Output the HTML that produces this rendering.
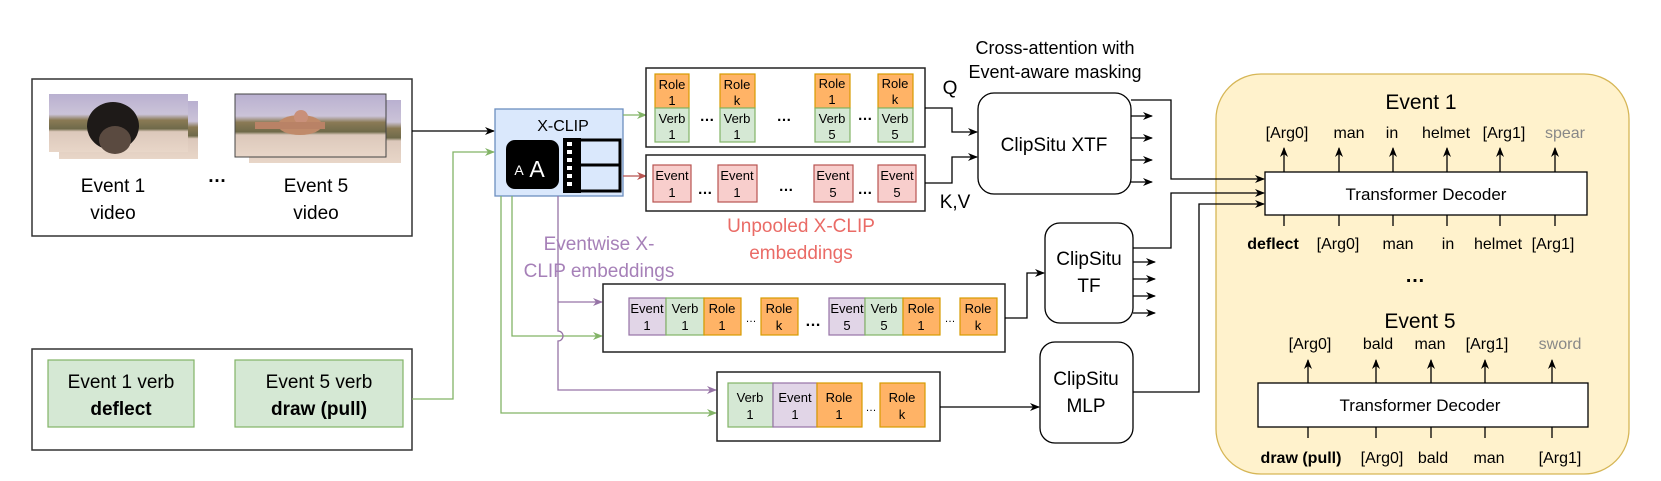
<!DOCTYPE html>
<html><head><meta charset="utf-8"><style>
html,body{margin:0;padding:0;background:#fff;}
svg{display:block;font-family:"Liberation Sans",Arial,sans-serif;}
</style></head><body>
<svg width="1661" height="481" viewBox="0 0 1661 481" xmlns="http://www.w3.org/2000/svg">
<defs>
<marker id="ak" markerWidth="10" markerHeight="10" refX="9" refY="5" orient="auto" markerUnits="userSpaceOnUse"><path d="M0,1 L10,5 L0,9 L3,5 z" fill="#000"/></marker>
<marker id="ag" markerWidth="10" markerHeight="10" refX="9" refY="5" orient="auto" markerUnits="userSpaceOnUse"><path d="M0,1 L10,5 L0,9 L3,5 z" fill="#82B366"/></marker>
<marker id="ap" markerWidth="10" markerHeight="10" refX="9" refY="5" orient="auto" markerUnits="userSpaceOnUse"><path d="M0,1 L10,5 L0,9 L3,5 z" fill="#9673A6"/></marker>
<marker id="ar" markerWidth="10" markerHeight="10" refX="9" refY="5" orient="auto" markerUnits="userSpaceOnUse"><path d="M0,1 L10,5 L0,9 L3,5 z" fill="#B85450"/></marker>
<linearGradient id="sky" x1="0" y1="0" x2="0" y2="1">
<stop offset="0" stop-color="#b9b0d0"/><stop offset="0.35" stop-color="#cbc3d8"/><stop offset="0.45" stop-color="#8a7a55"/><stop offset="0.6" stop-color="#6f6a4a"/><stop offset="0.65" stop-color="#dcc8bb"/><stop offset="1" stop-color="#e8d6c8"/></linearGradient>
</defs>

<!-- Video box -->
<rect x="32" y="79" width="380" height="157" fill="#fff" stroke="#333" stroke-width="1.5"/>
<rect x="59" y="101" width="139" height="58" fill="url(#sky)"/>
<rect x="49" y="94" width="139" height="58" fill="url(#sky)"/>
<ellipse cx="113" cy="126" rx="26" ry="24" fill="#1e1a18"/>
<ellipse cx="115" cy="140" rx="16" ry="14" fill="#5a4a40"/>
<rect x="249" y="100" width="152" height="63" fill="url(#sky)"/>
<rect x="235" y="94" width="151" height="63" fill="url(#sky)" stroke="#444" stroke-width="1"/>
<ellipse cx="300" cy="125" rx="22" ry="10" fill="#c08a6a"/>
<circle cx="301" cy="117" r="7" fill="#c9907a"/>
<rect x="255" y="122" width="70" height="7" fill="#b98266"/>
<text x="113" y="192" font-size="19" text-anchor="middle">Event 1</text>
<text x="113" y="219" font-size="19" text-anchor="middle">video</text>
<text x="217" y="182" font-size="19" text-anchor="middle" font-weight="bold">…</text>
<text x="316" y="192" font-size="19" text-anchor="middle">Event 5</text>
<text x="316" y="219" font-size="19" text-anchor="middle">video</text>

<!-- Verb box -->
<rect x="32" y="349" width="380" height="101" fill="#fff" stroke="#333" stroke-width="1.5"/>
<rect x="48" y="360" width="146" height="67" fill="#D5E8D4" stroke="#82B366" stroke-width="1.2"/>
<rect x="235" y="360" width="168" height="67" fill="#D5E8D4" stroke="#82B366" stroke-width="1.2"/>
<text x="121" y="388" font-size="19" text-anchor="middle">Event 1 verb</text>
<text x="121" y="415" font-size="19" text-anchor="middle" font-weight="bold">deflect</text>
<text x="319" y="388" font-size="19" text-anchor="middle">Event 5 verb</text>
<text x="319" y="415" font-size="19" text-anchor="middle" font-weight="bold">draw (pull)</text>

<!-- arrows to X-CLIP -->
<line x1="412" y1="131" x2="494" y2="131" stroke="#000" stroke-width="1.3" marker-end="url(#ak)"/>
<polyline points="412,399 453,399 453,152 494,152" fill="none" stroke="#82B366" stroke-width="1.3" marker-end="url(#ag)"/>

<!-- X-CLIP -->
<rect x="495" y="109" width="128" height="87" fill="#DAE8FC" stroke="#6C8EBF" stroke-width="1.3"/>
<text x="563" y="131" font-size="16" text-anchor="middle">X-CLIP</text>
<rect x="506" y="140" width="53" height="49" rx="9" fill="#000"/>
<text x="519" y="175" font-size="14" fill="#fff" text-anchor="middle">A</text>
<text x="537" y="177" font-size="23" fill="#fff" text-anchor="middle">A</text>
<rect x="563" y="138" width="18" height="55" fill="#000"/>
<rect x="576" y="140" width="44" height="51" fill="none" stroke="#000" stroke-width="3"/>
<line x1="576" y1="165" x2="620" y2="165" stroke="#000" stroke-width="3"/>
<g fill="#fff"><rect x="567" y="142" width="5" height="4"/><rect x="567" y="150" width="5" height="4"/><rect x="567" y="158" width="5" height="4"/><rect x="567" y="166" width="5" height="4"/><rect x="567" y="174" width="5" height="4"/><rect x="567" y="182" width="5" height="4"/></g>

<!-- Lines from X-CLIP -->
<line x1="623" y1="115" x2="646" y2="115" stroke="#82B366" stroke-width="1.3" marker-end="url(#ag)"/>
<line x1="623" y1="176" x2="646" y2="176" stroke="#B85450" stroke-width="1.3" marker-end="url(#ar)"/>
<polyline points="512,196 512,336 602,336" fill="none" stroke="#82B366" stroke-width="1.3" marker-end="url(#ag)"/>
<polyline points="501,196 501,413 716,413" fill="none" stroke="#82B366" stroke-width="1.3" marker-end="url(#ag)"/>
<path d="M558,196 L558,331 A5,5 0 0 1 558,341 L558,390 L716,390" fill="none" stroke="#9673A6" stroke-width="1.3" marker-end="url(#ap)"/>
<line x1="558" y1="302" x2="602" y2="302" stroke="#9673A6" stroke-width="1.3" marker-end="url(#ap)"/>

<text x="599" y="250" font-size="19" fill="#A680B8" text-anchor="middle">Eventwise X-</text>
<text x="599" y="277" font-size="19" fill="#A680B8" text-anchor="middle">CLIP embeddings</text>
<text x="801" y="232" font-size="19" fill="#EA6B66" text-anchor="middle">Unpooled X-CLIP</text>
<text x="801" y="259" font-size="19" fill="#EA6B66" text-anchor="middle">embeddings</text>

<!-- Top emb box -->
<rect x="646" y="68" width="279" height="79" fill="#fff" stroke="#222" stroke-width="1.5"/>
<g font-size="13" text-anchor="middle">
<g stroke-width="1.2">
<rect x="655" y="74" width="34" height="34" fill="#FFB366" stroke="#D79B00"/><rect x="655" y="108" width="34" height="34" fill="#D5E8D4" stroke="#82B366"/>
<rect x="720" y="74" width="35" height="34" fill="#FFB366" stroke="#D79B00"/><rect x="720" y="108" width="35" height="34" fill="#D5E8D4" stroke="#82B366"/>
<rect x="815" y="74" width="35" height="34" fill="#FFB366" stroke="#D79B00"/><rect x="815" y="108" width="35" height="34" fill="#D5E8D4" stroke="#82B366"/>
<rect x="878" y="74" width="35" height="34" fill="#FFB366" stroke="#D79B00"/><rect x="878" y="108" width="35" height="34" fill="#D5E8D4" stroke="#82B366"/>
</g>
<text x="672" y="89">Role</text><text x="672" y="105">1</text><text x="672" y="123">Verb</text><text x="672" y="139">1</text>
<text x="737" y="89">Role</text><text x="737" y="105">k</text><text x="737" y="123">Verb</text><text x="737" y="139">1</text>
<text x="832" y="88">Role</text><text x="832" y="104">1</text><text x="832" y="123">Verb</text><text x="832" y="139">5</text>
<text x="895" y="88">Role</text><text x="895" y="104">k</text><text x="895" y="123">Verb</text><text x="895" y="139">5</text>
<text x="707" y="121" font-weight="bold" font-size="15">…</text><text x="784" y="121" font-weight="bold" font-size="15">…</text><text x="865" y="120" font-weight="bold" font-size="15">…</text>
</g>

<!-- Event emb box -->
<rect x="646" y="155" width="279" height="56" fill="#fff" stroke="#222" stroke-width="1.5"/>
<g font-size="13" text-anchor="middle">
<g fill="#F8CECC" stroke="#B85450" stroke-width="1.2">
<rect x="653" y="165" width="38" height="37"/><rect x="718" y="165" width="39" height="37"/><rect x="814" y="165" width="39" height="37"/><rect x="878" y="165" width="38" height="37"/></g>
<text x="672" y="180">Event</text><text x="672" y="197">1</text>
<text x="737" y="180">Event</text><text x="737" y="197">1</text>
<text x="833" y="180">Event</text><text x="833" y="197">5</text>
<text x="897" y="180">Event</text><text x="897" y="197">5</text>
<text x="705" y="194" font-weight="bold" font-size="15">…</text><text x="786" y="191" font-weight="bold" font-size="15">…</text><text x="865" y="194" font-weight="bold" font-size="15">…</text>
</g>

<text x="950" y="94" font-size="19" text-anchor="middle">Q</text>
<text x="955" y="208" font-size="19" text-anchor="middle">K,V</text>
<polyline points="925,108 952,108 952,132 977,132" fill="none" stroke="#000" stroke-width="1.3" marker-end="url(#ak)"/>
<polyline points="925,183 952,183 952,157 977,157" fill="none" stroke="#000" stroke-width="1.3" marker-end="url(#ak)"/>

<!-- XTF -->
<text x="1055" y="54" font-size="18" text-anchor="middle">Cross-attention with</text>
<text x="1055" y="78" font-size="18" text-anchor="middle">Event-aware masking</text>
<rect x="978" y="93" width="153" height="101" rx="16" fill="#fff" stroke="#000" stroke-width="1.3"/>
<text x="1054" y="151" font-size="19" text-anchor="middle">ClipSitu XTF</text>
<g stroke="#000" stroke-width="1.3">
<line x1="1131" y1="116" x2="1152" y2="116" marker-end="url(#ak)"/><line x1="1131" y1="138" x2="1152" y2="138" marker-end="url(#ak)"/><line x1="1131" y1="160" x2="1152" y2="160" marker-end="url(#ak)"/><line x1="1131" y1="182" x2="1152" y2="182" marker-end="url(#ak)"/>
</g>

<!-- Third emb box -->
<rect x="603" y="284" width="402" height="68" fill="#fff" stroke="#222" stroke-width="1.5"/>
<g font-size="13" text-anchor="middle" stroke-width="1.2">
<rect x="629" y="298" width="37" height="37" fill="#E1D5E7" stroke="#9673A6"/>
<rect x="666" y="298" width="38" height="37" fill="#D5E8D4" stroke="#82B366"/>
<rect x="704" y="298" width="37" height="37" fill="#FFB366" stroke="#D79B00"/>
<rect x="761" y="298" width="37" height="37" fill="#FFB366" stroke="#D79B00"/>
<rect x="829" y="298" width="36" height="37" fill="#E1D5E7" stroke="#9673A6"/>
<rect x="865" y="298" width="38" height="37" fill="#D5E8D4" stroke="#82B366"/>
<rect x="903" y="298" width="37" height="37" fill="#FFB366" stroke="#D79B00"/>
<rect x="960" y="298" width="37" height="37" fill="#FFB366" stroke="#D79B00"/>
<g stroke="none">
<text x="647" y="313">Event</text><text x="647" y="330">1</text>
<text x="685" y="313">Verb</text><text x="685" y="330">1</text>
<text x="722" y="313">Role</text><text x="722" y="330">1</text>
<text x="751" y="322" font-size="11">…</text>
<text x="779" y="313">Role</text><text x="779" y="330">k</text>
<text x="813" y="326" font-weight="bold" font-size="16">…</text>
<text x="847" y="313">Event</text><text x="847" y="330">5</text>
<text x="884" y="313">Verb</text><text x="884" y="330">5</text>
<text x="921" y="313">Role</text><text x="921" y="330">1</text>
<text x="950" y="322" font-size="11">…</text>
<text x="978" y="313">Role</text><text x="978" y="330">k</text>
</g></g>
<polyline points="1005,318 1027,318 1027,273 1044,273" fill="none" stroke="#000" stroke-width="1.3" marker-end="url(#ak)"/>

<!-- TF -->
<rect x="1045" y="223" width="88" height="100" rx="15" fill="#fff" stroke="#000" stroke-width="1.3"/>
<text x="1089" y="265" font-size="19" text-anchor="middle">ClipSitu</text>
<text x="1089" y="292" font-size="19" text-anchor="middle">TF</text>
<g stroke="#000" stroke-width="1.3">
<line x1="1133" y1="262" x2="1155" y2="262" marker-end="url(#ak)"/><line x1="1133" y1="279" x2="1155" y2="279" marker-end="url(#ak)"/><line x1="1133" y1="296" x2="1155" y2="296" marker-end="url(#ak)"/><line x1="1133" y1="313" x2="1155" y2="313" marker-end="url(#ak)"/>
</g>

<!-- Fourth emb box -->
<rect x="717" y="372" width="223" height="69" fill="#fff" stroke="#222" stroke-width="1.5"/>
<g font-size="13" text-anchor="middle" stroke-width="1.2">
<rect x="728" y="383" width="45" height="44" fill="#D5E8D4" stroke="#82B366"/>
<rect x="773" y="383" width="44" height="44" fill="#E1D5E7" stroke="#9673A6"/>
<rect x="817" y="383" width="45" height="44" fill="#FFB366" stroke="#D79B00"/>
<rect x="880" y="383" width="45" height="44" fill="#FFB366" stroke="#D79B00"/>
<g stroke="none">
<text x="750" y="402">Verb</text><text x="750" y="419">1</text>
<text x="795" y="402">Event</text><text x="795" y="419">1</text>
<text x="839" y="402">Role</text><text x="839" y="419">1</text>
<text x="871" y="411" font-size="11">…</text>
<text x="902" y="402">Role</text><text x="902" y="419">k</text>
</g></g>
<line x1="940" y1="407" x2="1039" y2="407" stroke="#000" stroke-width="1.3" marker-end="url(#ak)"/>

<!-- MLP -->
<rect x="1040" y="342" width="93" height="101" rx="15" fill="#fff" stroke="#000" stroke-width="1.3"/>
<text x="1086" y="385" font-size="19" text-anchor="middle">ClipSitu</text>
<text x="1086" y="412" font-size="19" text-anchor="middle">MLP</text>

<!-- Yellow panel -->
<rect x="1216" y="74" width="413" height="400" rx="45" fill="#FFF2CC" stroke="#D6B656" stroke-width="1.3"/>

<polyline points="1131,100 1171,100 1171,179 1264,179" fill="none" stroke="#000" stroke-width="1.3" marker-end="url(#ak)"/>
<polyline points="1133,248 1171,248 1171,193 1264,193" fill="none" stroke="#000" stroke-width="1.3" marker-end="url(#ak)"/>
<polyline points="1133,392 1199,392 1199,204 1264,204" fill="none" stroke="#000" stroke-width="1.3" marker-end="url(#ak)"/>

<text x="1421" y="109" font-size="21" text-anchor="middle">Event 1</text>
<g font-size="16" text-anchor="middle">
<text x="1287" y="138">[Arg0]</text><text x="1349" y="138">man</text><text x="1392" y="138">in</text><text x="1446" y="138">helmet</text><text x="1504" y="138">[Arg1]</text><text x="1565" y="138" fill="#888">spear</text>
</g>
<g stroke="#000" stroke-width="1.3">
<line x1="1284" y1="172" x2="1284" y2="148" marker-end="url(#ak)"/><line x1="1339" y1="172" x2="1339" y2="148" marker-end="url(#ak)"/><line x1="1393" y1="172" x2="1393" y2="148" marker-end="url(#ak)"/><line x1="1447" y1="172" x2="1447" y2="148" marker-end="url(#ak)"/><line x1="1500" y1="172" x2="1500" y2="148" marker-end="url(#ak)"/><line x1="1555" y1="172" x2="1555" y2="148" marker-end="url(#ak)"/>
<line x1="1284" y1="215" x2="1284" y2="226"/><line x1="1339" y1="215" x2="1339" y2="226"/><line x1="1393" y1="215" x2="1393" y2="226"/><line x1="1447" y1="215" x2="1447" y2="226"/><line x1="1500" y1="215" x2="1500" y2="226"/><line x1="1555" y1="215" x2="1555" y2="226"/>
</g>
<rect x="1265" y="172" width="322" height="43" fill="#fff" stroke="#000" stroke-width="1.3"/>
<text x="1426" y="200" font-size="17" text-anchor="middle">Transformer Decoder</text>
<g font-size="16" text-anchor="middle">
<text x="1273" y="249" font-weight="bold">deflect</text><text x="1338" y="249">[Arg0]</text><text x="1398" y="249">man</text><text x="1448" y="249">in</text><text x="1498" y="249">helmet</text><text x="1553" y="249">[Arg1]</text>
</g>
<text x="1415" y="282" font-size="20" text-anchor="middle" font-weight="bold">…</text>
<text x="1420" y="328" font-size="21" text-anchor="middle">Event 5</text>
<g font-size="16" text-anchor="middle">
<text x="1310" y="349">[Arg0]</text><text x="1378" y="349">bald</text><text x="1430" y="349">man</text><text x="1487" y="349">[Arg1]</text><text x="1560" y="349" fill="#888">sword</text>
</g>
<g stroke="#000" stroke-width="1.3">
<line x1="1308" y1="383" x2="1308" y2="360" marker-end="url(#ak)"/><line x1="1376" y1="383" x2="1376" y2="360" marker-end="url(#ak)"/><line x1="1431" y1="383" x2="1431" y2="360" marker-end="url(#ak)"/><line x1="1485" y1="383" x2="1485" y2="360" marker-end="url(#ak)"/><line x1="1552" y1="383" x2="1552" y2="360" marker-end="url(#ak)"/>
<line x1="1308" y1="427" x2="1308" y2="438"/><line x1="1376" y1="427" x2="1376" y2="438"/><line x1="1431" y1="427" x2="1431" y2="438"/><line x1="1485" y1="427" x2="1485" y2="438"/><line x1="1552" y1="427" x2="1552" y2="438"/>
</g>
<rect x="1258" y="383" width="330" height="44" fill="#fff" stroke="#000" stroke-width="1.3"/>
<text x="1420" y="411" font-size="17" text-anchor="middle">Transformer Decoder</text>
<g font-size="16" text-anchor="middle">
<text x="1301" y="463" font-weight="bold">draw (pull)</text><text x="1382" y="463">[Arg0]</text><text x="1433" y="463">bald</text><text x="1489" y="463">man</text><text x="1560" y="463">[Arg1]</text>
</g>
</svg>
</body></html>
